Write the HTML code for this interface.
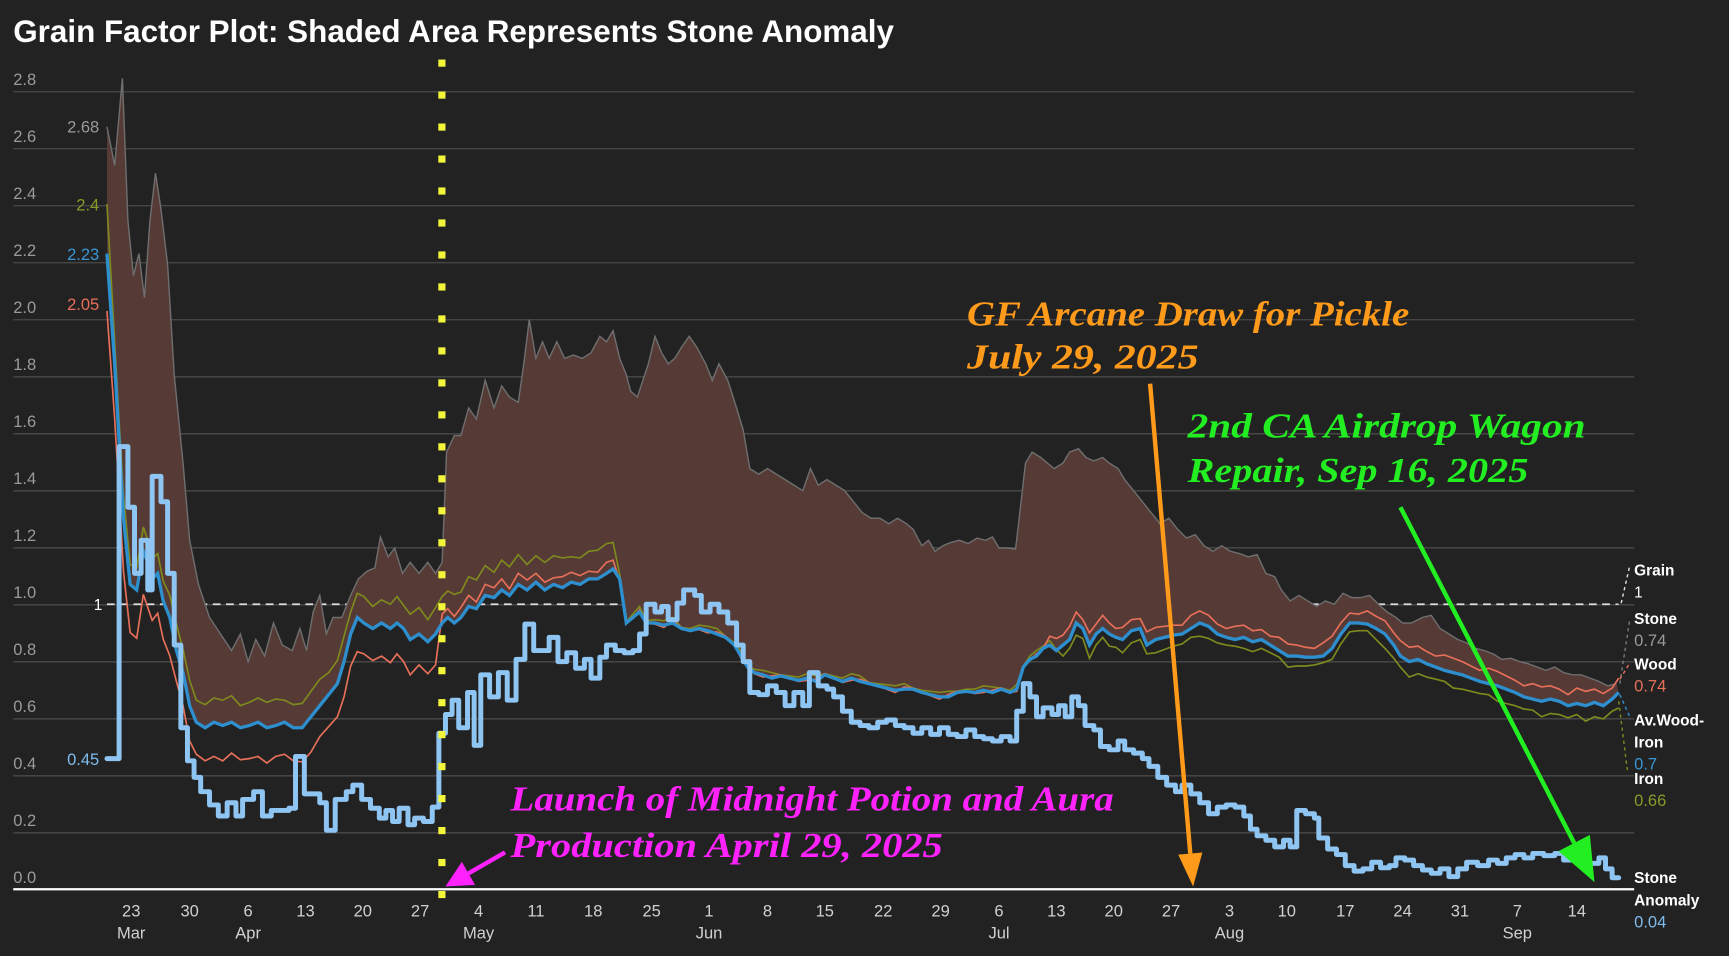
<!DOCTYPE html>
<html><head><meta charset="utf-8"><style>
html,body{margin:0;padding:0;background:#222222;}
svg{display:block;}
text{font-family:"Liberation Sans","DejaVu Sans",sans-serif;}
.ann{font-family:"Liberation Serif",serif;font-style:italic;font-weight:bold;}
</style></head><body>
<svg id="c" width="1729" height="956" viewBox="0 0 1568 867" preserveAspectRatio="none" xmlns="http://www.w3.org/2000/svg">
<rect width="1568" height="867" fill="#222222"/>
<text x="12" y="38" fill="#ffffff" font-size="28.5" font-weight="bold">Grain Factor Plot: Shaded Area Represents Stone Anomaly</text>
<g id="grid"></g>
<g id="plot"></g>
</svg>
<script>
(function(){
const NS="http://www.w3.org/2000/svg";
const svg=document.getElementById('c');
function el(t,a,p){const e=document.createElementNS(NS,t);for(const k in a)e.setAttribute(k,a[k]);(p||svg).appendChild(e);return e;}
function txt(x,y,s,a,p){const e=el('text',Object.assign({x:x,y:y},a),p);e.textContent=s;return e;}
const g=document.getElementById('grid'),P=document.getElementById('plot');
const Y=v=>807-v*258.5;
for(let i=0;i<=14;i++){const v=i*0.2,y=Y(v);
 if(i>0)el('line',{x1:12,x2:1482,y1:y,y2:y,stroke:'#4a4a4a','stroke-width':1.2},g);
 txt(12,y-6,v.toFixed(1),{fill:'#9a9a9a','font-size':15},g);}
el('line',{x1:12,x2:1482,y1:806.5,y2:806.5,stroke:'#ffffff','stroke-width':2},g);
const ticks=[[119,'23','Mar'],[172,'30'],[225,'6','Apr'],[277,'13'],[329,'20'],[381,'27'],[434,'4','May'],[486,'11'],[538,'18'],[591,'25'],[643,'1','Jun'],[696,'8'],[748,'15'],[801,'22'],[853,'29'],[906,'6','Jul'],[958,'13'],[1010,'20'],[1062,'27'],[1115,'3','Aug'],[1167,'10'],[1220,'17'],[1272,'24'],[1324,'31'],[1376,'7','Sep'],[1430,'14']];
ticks.forEach(t=>{txt(t[0],831,t[1],{fill:'#d0d0d0','font-size':15,'text-anchor':'middle'},g);if(t[2])txt(t[0],851,t[2],{fill:'#d0d0d0','font-size':15,'text-anchor':'middle'},g);});
el('line',{x1:97,x2:1465,y1:548,y2:548,stroke:'#dddddd','stroke-width':1.6,'stroke-dasharray':'7,5'},P);
txt(85,553,'1',{fill:'#ffffff','font-size':14},P);
const topE=[[97,115],[104,150],[111,71],[116,200],[121,250],[126,230],[131,270],[136,200],[141,157],[146,190],[152,240],[158,340],[166,420],[172,490],[180,530],[190,560],[200,575],[210,590],[218,575],[225,600],[232,580],[240,595],[248,565],[256,585],[265,590],[272,570],[278,590],[284,555],[290,540],[296,575],[302,560],[310,560],[318,540],[325,525],[333,518],[340,515],[345,487],[352,505],[358,497],[365,520],[372,510],[380,520],[388,510],[395,520],[401,510],[405,410],[412,395],[418,395],[425,370],[432,380],[440,345],[448,370],[455,350],[462,360],[470,365],[475,330],[480,290],[486,325],[492,310],[498,325],[505,310],[512,325],[520,322],[528,325],[536,320],[544,305],[550,310],[556,300],[562,325],[568,340],[572,355],[578,360],[583,345],[588,330],[594,305],[600,320],[606,330],[612,325],[618,315],[625,305],[632,315],[640,330],[646,345],[652,330],[660,345],[668,370],[674,390],[680,425],[688,430],[696,425],[704,430],[712,435],[720,440],[728,445],[735,425],[742,440],[750,435],[758,440],[766,445],[774,455],[782,465],[790,470],[798,470],[806,475],[814,470],[822,475],[828,480],[836,495],[842,490],[848,500],[855,495],[862,492],[870,490],[878,493],[886,488],[894,490],[900,487],[906,497],[914,497],[921,498],[926,455],[930,420],[936,410],[944,415],[950,420],[956,425],[964,420],[970,410],[978,407],[985,415],[992,418],[1000,415],[1006,420],[1014,425],[1020,435],[1028,445],[1036,455],[1044,465],[1052,475],[1060,470],[1068,480],[1076,488],[1084,485],[1092,495],[1100,500],[1108,495],[1116,500],[1124,502],[1132,505],[1140,503],[1148,520],[1156,523],[1162,535],[1170,545],[1178,540],[1186,545],[1194,550],[1202,545],[1210,548],[1218,538],[1226,542],[1234,542],[1242,540],[1250,548],[1258,555],[1266,560],[1272,565],[1280,565],[1290,560],[1298,558],[1306,570],[1314,575],[1322,580],[1330,583],[1338,588],[1346,590],[1354,593],[1362,598],[1370,597],[1378,600],[1386,602],[1394,605],[1402,608],[1410,605],[1418,610],[1426,612],[1434,612],[1442,615],[1450,618],[1458,622],[1466,620]];
const av=[[97,230],[104,330],[108,400],[112,470],[118,530],[124,535],[130,500],[134,510],[138,525],[143,520],[148,545],[154,560],[160,590],[166,610],[172,640],[178,655],[186,660],[194,655],[202,658],[210,655],[218,660],[226,658],[234,655],[242,660],[250,658],[258,655],[266,660],[274,660],[282,650],[290,640],[298,630],[306,620],[312,600],[318,575],[324,560],[330,565],[338,570],[346,565],[354,570],[360,565],[366,570],[372,580],[380,575],[388,582],[395,575],[401,565],[406,560],[412,565],[418,560],[425,550],[432,552],[440,540],[448,542],[455,535],[462,540],[470,530],[478,535],[486,528],[494,535],[502,530],[510,533],[518,528],[526,530],[534,525],[542,525],[550,520],[556,516],[562,525],[568,565],[574,560],[580,555],[586,565],[594,565],[602,567],[610,565],[618,570],[626,572],[634,570],[642,572],[650,575],[658,578],[666,585],[672,595],[678,605],[684,610],[692,612],[700,615],[708,613],[716,615],[724,617],[732,615],[740,618],[748,612],[756,615],[764,618],[772,615],[780,618],[788,620],[796,622],[804,624],[812,626],[820,625],[828,625],[836,628],[844,630],[852,632],[860,632],[868,628],[876,627],[884,628],[892,626],[900,628],[908,625],[916,628],[922,625],[928,605],[934,598],[940,595],[946,588],[952,585],[958,590],[964,585],[970,580],[976,565],[982,570],[988,585],[994,575],[1000,570],[1006,575],[1012,578],[1018,580],[1026,572],[1034,570],[1040,585],[1048,580],[1056,578],[1064,576],[1072,575],[1080,570],[1088,565],[1096,568],[1104,575],[1112,578],[1120,580],[1128,578],[1136,582],[1144,580],[1152,585],[1160,590],[1168,595],[1176,595],[1184,596],[1192,596],[1200,595],[1208,588],[1216,575],[1224,565],[1232,565],[1240,566],[1248,570],[1256,575],[1264,585],[1270,595],[1278,600],[1286,598],[1294,602],[1302,605],[1310,608],[1318,610],[1326,612],[1334,615],[1342,618],[1350,620],[1358,622],[1366,625],[1374,628],[1382,632],[1390,634],[1398,636],[1406,634],[1414,636],[1422,640],[1430,638],[1438,640],[1446,637],[1454,640],[1462,634],[1468,628]];
function woodOff(x){if(x<100)return 50;if(x<160)return 50-(x-100)*0.3;if(x<400)return 30;if(x<560)return -8;if(x<950)return 0;if(x<1250)return -10;return -12;}
function ironOff(x){if(x<100)return -44;if(x<160)return -20;if(x<400)return -22;if(x<560)return -25;if(x<960)return -3;if(x<1100)return 10;if(x<1250)return 8;return 12;}
const wood=av.map(p=>[p[0],p[1]+woodOff(p[0])+((p[0]*7)%5-2)]);
const iron=av.map(p=>[p[0],p[1]+ironOff(p[0])+((p[0]*3)%5-2)]);
wood[wood.length-1][1]=615;
const pts=a=>a.map(p=>p[0]+','+p[1]).join(' ');
el('polygon',{points:pts(topE)+' '+pts(av.slice().reverse()),fill:'#553a35'},P);
el('polyline',{points:pts(topE),fill:'none',stroke:'#6e6e6e','stroke-width':1.3},P);
el('polyline',{points:pts(iron),fill:'none',stroke:'#7f8a1e','stroke-width':1.5},P);
el('polyline',{points:pts(wood),fill:'none',stroke:'#e8705a','stroke-width':1.5},P);
el('polyline',{points:pts(av),fill:'none',stroke:'#2e8fcf','stroke-width':3},P);
const sa=[[97,688],[108,688],[108,405],[116,405],[116,460],[122,460],[122,520],[128,520],[128,490],[134,490],[134,535],[138,535],[138,432],[146,432],[146,455],[152,455],[152,520],[158,520],[158,585],[164,585],[164,660],[170,660],[170,690],[176,690],[176,705],[182,705],[182,718],[190,718],[190,730],[198,730],[198,740],[206,740],[206,728],[214,728],[214,740],[220,740],[220,725],[230,725],[230,718],[238,718],[238,740],[246,740],[246,735],[262,735],[262,733],[268,733],[268,686],[276,686],[276,720],[290,720],[290,728],[296,728],[296,753],[304,753],[304,725],[314,725],[314,718],[320,718],[320,712],[328,712],[328,725],[336,725],[336,733],[344,733],[344,742],[350,742],[350,735],[356,735],[356,745],[362,745],[362,733],[370,733],[370,748],[376,748],[376,742],[384,742],[384,745],[392,745],[392,732],[398,732],[398,665],[404,665],[404,648],[410,648],[410,635],[416,635],[416,660],[424,660],[424,628],[430,628],[430,676],[436,676],[436,612],[444,612],[444,632],[452,632],[452,610],[460,610],[460,635],[468,635],[468,598],[476,598],[476,566],[484,566],[484,590],[498,590],[498,578],[506,578],[506,600],[514,600],[514,592],[522,592],[522,606],[530,606],[530,598],[536,598],[536,615],[544,615],[544,596],[550,596],[550,585],[558,585],[558,590],[566,590],[566,592],[574,592],[574,590],[580,590],[580,575],[586,575],[586,548],[594,548],[594,555],[600,555],[600,550],[606,550],[606,562],[614,562],[614,547],[620,547],[620,535],[630,535],[630,540],[636,540],[636,555],[644,555],[644,548],[652,548],[652,555],[660,555],[660,565],[668,565],[668,585],[674,585],[674,600],[680,600],[680,628],[688,628],[688,630],[696,630],[696,622],[704,622],[704,628],[712,628],[712,640],[720,640],[720,628],[728,628],[728,640],[734,640],[734,610],[742,610],[742,622],[750,622],[750,625],[756,625],[756,632],[764,632],[764,645],[772,645],[772,655],[780,655],[780,658],[788,658],[788,660],[796,660],[796,655],[804,655],[804,653],[812,653],[812,658],[820,658],[820,660],[828,660],[828,665],[836,665],[836,660],[844,660],[844,666],[852,666],[852,660],[860,660],[860,666],[868,666],[868,668],[876,668],[876,662],[884,662],[884,668],[892,668],[892,670],[900,670],[900,672],[908,672],[908,668],[916,668],[916,672],[922,672],[922,645],[928,645],[928,620],[934,620],[934,632],[940,632],[940,650],[946,650],[946,642],[954,642],[954,648],[960,648],[960,640],[966,640],[966,650],[972,650],[972,632],[978,632],[978,640],[984,640],[984,658],[992,658],[992,662],[998,662],[998,677],[1006,677],[1006,680],[1014,680],[1014,672],[1020,672],[1020,680],[1028,680],[1028,683],[1036,683],[1036,688],[1042,688],[1042,695],[1050,695],[1050,705],[1058,705],[1058,712],[1066,712],[1066,718],[1072,718],[1072,712],[1080,712],[1080,720],[1088,720],[1088,728],[1096,728],[1096,738],[1104,738],[1104,732],[1112,732],[1112,730],[1120,730],[1120,732],[1128,732],[1128,740],[1134,740],[1134,752],[1140,752],[1140,758],[1148,758],[1148,762],[1156,762],[1156,768],[1164,768],[1164,762],[1170,762],[1170,768],[1176,768],[1176,735],[1184,735],[1184,738],[1192,738],[1192,742],[1196,742],[1196,760],[1204,760],[1204,770],[1212,770],[1212,775],[1220,775],[1220,785],[1228,785],[1228,790],[1236,790],[1236,788],[1244,788],[1244,782],[1252,782],[1252,787],[1260,787],[1260,785],[1266,785],[1266,778],[1274,778],[1274,780],[1282,780],[1282,785],[1290,785],[1290,789],[1298,789],[1298,792],[1306,792],[1306,788],[1314,788],[1314,795],[1322,795],[1322,788],[1330,788],[1330,782],[1340,782],[1340,785],[1350,785],[1350,780],[1358,780],[1358,783],[1366,783],[1366,778],[1374,778],[1374,775],[1382,775],[1382,778],[1390,778],[1390,774],[1400,774],[1400,776],[1410,776],[1410,774],[1418,774],[1418,780],[1430,780],[1430,778],[1440,778],[1440,783],[1450,783],[1450,778],[1456,778],[1456,788],[1462,788],[1462,796],[1468,796]];
el('polyline',{points:pts(sa),fill:'none',stroke:'#8ec5f2','stroke-width':4.5,'stroke-linejoin':'round','stroke-linecap':'round'},P);
txt(90,120,'2.68',{fill:'#9a9a9a','font-size':15,'text-anchor':'end'},P);
txt(90,191,'2.4',{fill:'#8a9a2a','font-size':15,'text-anchor':'end'},P);
txt(90,236,'2.23',{fill:'#3a95d5','font-size':15,'text-anchor':'end'},P);
txt(90,281,'2.05',{fill:'#e8705a','font-size':15,'text-anchor':'end'},P);
txt(90,694,'0.45',{fill:'#7fbcee','font-size':15,'text-anchor':'end'},P);
const c=(x1,y1,x2,y2,col)=>el('polyline',{points:x1+','+y1+' '+x2+','+y2,fill:'none',stroke:col,'stroke-width':1.3,'stroke-dasharray':'3,3'},P);
el('polyline',{points:'1465,548 1470,548 1478,513',fill:'none',stroke:'#dddddd','stroke-width':1.3,'stroke-dasharray':'3,3'},P);
c(1469,620,1478,562,'#777'); c(1469,616,1477,603,'#e8705a'); c(1469,630,1478,650,'#2e8fcf'); c(1468,636,1476,700,'#7f8a1e');
const lab=(y,a,b,col)=>{txt(1482,y,a,{fill:'#fff','font-size':14,'font-weight':'bold'},P);if(b)txt(1482,y+20,b,{fill:col,'font-size':15},P);};
lab(522,'Grain','','');txt(1482,542,'1',{fill:'#fff','font-size':14},P);
lab(566,'Stone','0.74','#9a9a9a');
lab(607,'Wood','0.74','#e8705a');
txt(1482,658,'Av.Wood-',{fill:'#fff','font-size':14,'font-weight':'bold'},P);
txt(1482,678,'Iron',{fill:'#fff','font-size':14,'font-weight':'bold'},P);
txt(1482,698,'0.7',{fill:'#3a95d5','font-size':15},P);
lab(711,'Iron','0.66','#8a9a2a');
txt(1482,801,'Stone',{fill:'#fff','font-size':14,'font-weight':'bold'},P);
txt(1482,821,'Anomaly',{fill:'#fff','font-size':14,'font-weight':'bold'},P);
txt(1482,841,'0.04',{fill:'#7fbcee','font-size':15},P);
for(let y=54;y<810;y+=29)el('rect',{x:397.5,y:y,width:6.5,height:6.5,fill:'#f2f53a'},P);
function arrow(x1,y1,x2,y2,col,w,hl,hw){const dx=x2-x1,dy=y2-y1,L=Math.hypot(dx,dy),ux=dx/L,uy=dy/L;const bx=x2-ux*hl,by=y2-uy*hl;
 el('line',{x1:x1,y1:y1,x2:bx,y2:by,stroke:col,'stroke-width':w},P);
 el('polygon',{points:x2+','+y2+' '+(bx-uy*hw)+','+(by+ux*hw)+' '+(bx+uy*hw)+','+(by-ux*hw),fill:col},P);}
arrow(1043,348,1082,804,'#ff9a1a',4,30,11);
arrow(1270,460,1446,800,'#22ee22',4,40,16);
arrow(458,773,404,804,'#ff22ff',4,24,12);
const at=(x,y,s,col,w)=>txt(x,y,s,{fill:col,'font-size':32,'class':'ann',textLength:w,lengthAdjust:'spacingAndGlyphs'},P);
at(877,295,'GF Arcane Draw for Pickle','#ff9a1a',401);
at(877,334,'July 29, 2025','#ff9a1a',210);
at(1077,397,'2nd CA Airdrop Wagon','#22ee22',361);
at(1077,437,'Repair, Sep 16, 2025','#22ee22',309);
at(463,735,'Launch of Midnight Potion and Aura','#ff22ff',547);
at(463,777,'Production April 29, 2025','#ff22ff',392);
})();
</script>
</body></html>
